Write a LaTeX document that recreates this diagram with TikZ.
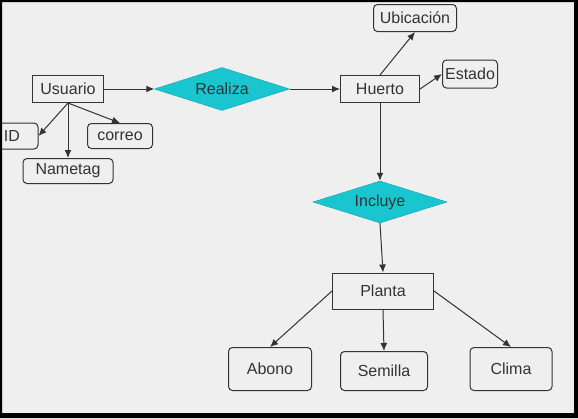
\documentclass[tikz,border=0pt]{standalone}
\usepackage{fontspec}
\setmainfont{Liberation Sans}
\usetikzlibrary{arrows.meta,shapes.geometric}
\definecolor{bg}{HTML}{EFEFEF}
\definecolor{ink}{HTML}{333333}
\definecolor{relfill}{HTML}{19C6D0}
\tikzset{
  every node/.style={font=\fontsize{16}{19}\selectfont, text=ink},
  ent/.style={draw=ink, line width=1pt, inner sep=0pt, fill=bg},
  attr/.style={ent, rounded corners=4pt},
  rel/.style={diamond, aspect=3, fill=relfill, draw=relfill!85!black, line width=0.5pt,
              inner sep=0pt, minimum width=135pt, minimum height=43pt},
  link/.style={-{Latex[length=8pt,width=7pt]}, line width=1pt, draw=ink},
}

\begin{document}
\begin{tikzpicture}[x=1pt, y=-1pt]
  \useasboundingbox (0,0) rectangle (578,418);
  \fill[bg] (0,0) rectangle (578,418);

  % entities and relations
  \node[ent, minimum width=71pt, minimum height=27pt] (usr) at (68,89) {Usuario};
  \node[rel] (realiza) at (222,89) {Realiza};
  \node[ent, minimum width=79pt, minimum height=27pt] (huerto) at (380,89) {Huerto};
  \node[rel, minimum width=134pt, minimum height=42pt] (incluye) at (380,202) {Incluye};
  \node[ent, minimum width=101pt, minimum height=36pt] (planta) at (383,291) {Planta};

  % attributes
  \node[attr, minimum width=52pt, minimum height=26pt] (id) at (12,136) {ID};
  \node[attr, minimum width=65pt, minimum height=25pt] (correo) at (120,136) {correo};
  \node[attr, minimum width=90pt, minimum height=25pt] (nametag) at (68,171) {Nametag};
  \node[attr, minimum width=83pt, minimum height=27pt] (ubic) at (415,18) {Ubicación};
  \node[attr, minimum width=55pt, minimum height=28pt] (estado) at (470,74) {Estado};
  \node[attr, minimum width=83pt, minimum height=43pt] (abono) at (270,369) {Abono};
  \node[attr, minimum width=87pt, minimum height=39pt] (semilla) at (384,371) {Semilla};
  \node[attr, minimum width=82pt, minimum height=43pt] (clima) at (511,369) {Clima};

  \draw[link] (usr) -- (realiza);
  \draw[link] (realiza) -- (huerto);
  \draw[link] (usr.south) -- (id.east);
  \draw[link] (usr.south) -- (nametag.north);
  \draw[link] (usr.south) -- (correo.north);
  \draw[link] (huerto.north) -- (ubic.south);
  \draw[link] (huerto.east) -- (estado.west);
  \draw[link] (huerto.south) -- (incluye.north);
  \draw[link] (incluye.south) -- (planta.north);
  \draw[link] (planta.west) -- (abono.north);
  \draw[link] (planta.south) -- (semilla.north);
  \draw[link] (planta.east) -- (clima.north);

  % screen frame
  \fill[black, even odd rule] (0,0) rectangle (578,418) (2,2) rectangle (574,413);
\end{tikzpicture}
\end{document}
